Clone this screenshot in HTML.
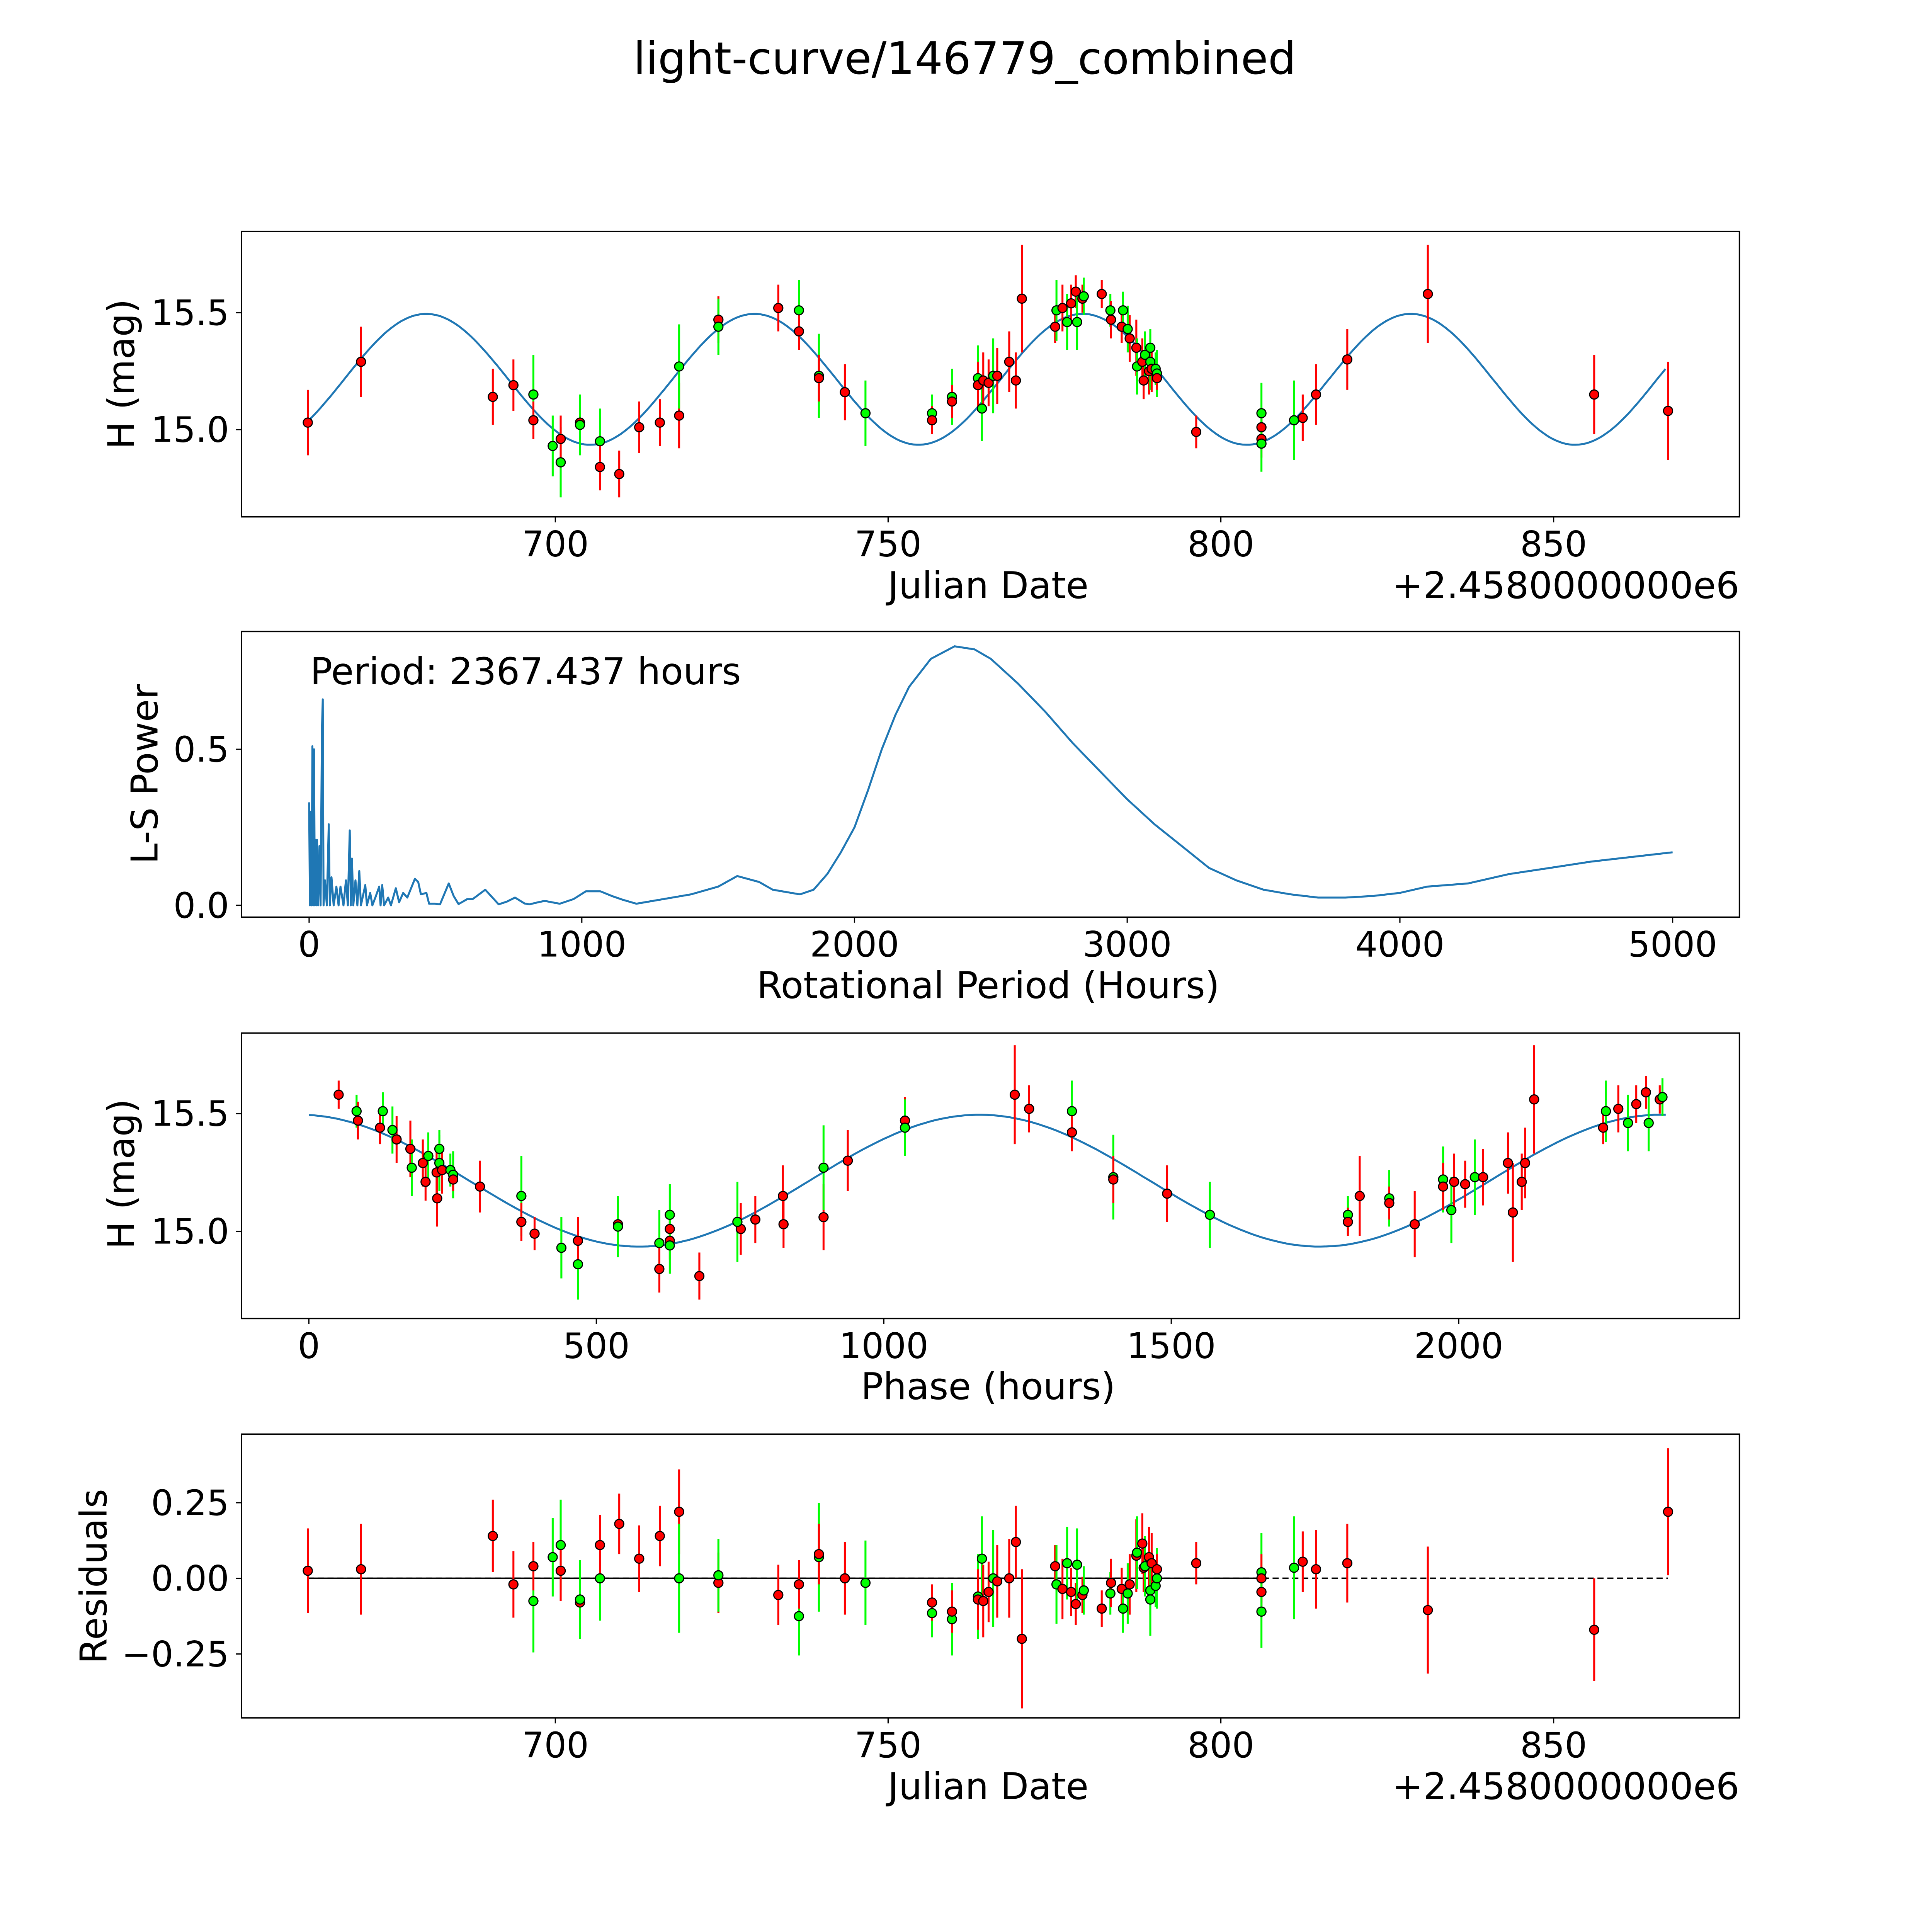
<!DOCTYPE html>
<html><head><meta charset="utf-8"><style>
html,body{margin:0;padding:0;background:#fff;overflow:hidden}
svg{display:block;width:100vw;height:100vh}
text{font-family:"DejaVu Sans","Liberation Sans",sans-serif;fill:#000}
</style></head><body>
<svg id="fig" xmlns="http://www.w3.org/2000/svg" viewBox="0 0 1570 1570" preserveAspectRatio="none">
<rect width="1570" height="1570" fill="#fff"/>
<text x="784" y="60" font-size="36" text-anchor="middle">light-curve/146779_combined</text>
<g id="layer"></g>
</svg>
<script>
// ---- data ----
const obsDate=[662.8,670.8,690.6,693.7,696.7,696.7,699.6,700.8,700.8,703.7,703.7,706.7,706.7,709.6,712.6,715.7,718.6,718.6,724.5,724.5,733.5,736.6,736.6,739.6,739.6,743.5,746.6,756.6,756.6,759.6,759.6,763.5,763.5,764.1,764.3,765.1,765.8,766.4,768.2,769.2,770.1,775.1,775.3,776.2,776.9,777.5,778.2,778.4,779.2,779.4,782.1,783.4,783.5,785.1,785.3,786.0,786.3,787.3,787.4,788.2,788.4,788.6,789.2,789.4,789.4,789.6,790.2,790.4,790.4,796.3,806.1,806.1,806.1,806.1,811.0,812.3,814.3,819.0,831.1,856.1,867.2];
const obsMag=[15.03,15.29,15.14,15.19,15.15,15.04,14.93,14.86,14.96,15.03,15.02,14.95,14.84,14.81,15.01,15.03,15.06,15.27,15.47,15.44,15.52,15.51,15.42,15.23,15.22,15.16,15.07,15.07,15.04,15.14,15.12,15.22,15.19,15.09,15.21,15.20,15.23,15.23,15.29,15.21,15.56,15.44,15.51,15.52,15.46,15.54,15.59,15.46,15.56,15.57,15.58,15.51,15.47,15.44,15.51,15.43,15.39,15.35,15.27,15.29,15.21,15.32,15.25,15.35,15.29,15.26,15.26,15.24,15.22,14.99,15.07,15.01,14.96,14.94,15.04,15.05,15.15,15.30,15.58,15.15,15.08];
const obsResid=[0.025,0.03,0.14,-0.02,-0.075,0.04,0.07,0.11,0.025,-0.08,-0.07,0.0,0.11,0.18,0.065,0.14,0.22,0.0,-0.015,0.01,-0.055,-0.125,-0.02,0.07,0.08,0.0,-0.015,-0.115,-0.08,-0.135,-0.11,-0.06,-0.07,0.065,-0.075,-0.045,0.0,-0.01,0.0,0.12,-0.2,0.04,-0.02,-0.035,0.05,-0.045,-0.085,0.045,-0.055,-0.04,-0.1,-0.05,-0.015,-0.035,-0.1,-0.05,-0.02,0.075,0.085,0.115,0.035,0.04,0.07,-0.04,-0.07,0.05,-0.025,0.0,0.03,0.05,0.02,0.0,-0.045,-0.11,0.035,0.055,0.03,0.05,-0.105,-0.17,0.22];
const obsErr=[0.14,0.15,0.12,0.11,0.17,0.08,0.13,0.15,0.10,0.11,0.13,0.14,0.10,0.10,0.11,0.10,0.14,0.18,0.10,0.12,0.10,0.13,0.08,0.18,0.10,0.12,0.14,0.08,0.06,0.12,0.07,0.14,0.10,0.14,0.12,0.10,0.16,0.12,0.13,0.12,0.23,0.07,0.13,0.10,0.12,0.08,0.07,0.12,0.06,0.08,0.06,0.07,0.08,0.07,0.08,0.10,0.10,0.12,0.12,0.10,0.08,0.10,0.10,0.08,0.12,0.10,0.07,0.10,0.05,0.07,0.13,0.08,0.08,0.12,0.17,0.10,0.13,0.13,0.21,0.17,0.21];
const obsBand=["r","r","r","r","g","r","g","g","r","r","g","g","r","r","r","r","r","g","r","g","r","g","r","g","r","r","g","g","r","g","r","g","r","g","r","r","g","r","r","r","r","r","g","r","g","r","r","g","r","g","r","g","r","r","g","g","r","r","g","r","r","g","r","g","g","r","g","g","r","r","g","r","r","g","g","r","r","r","r","r","r"];
const lsPeriod=[0,3,6,9,12,15,18,21,23,26,29,33,38,42,47,50,53,58,65,72,76,82,90,100,108,115,126,135,142,149,153,157,162,170,177,184,190,206,212,224,232,245,257,262,268,275,290,300,318,330,345,360,388,400,410,430,440,460,480,512,530,548,580,600,646,695,725,755,790,808,840,864,890,919,970,1015,1040,1068,1110,1149,1200,1300,1400,1500,1570,1650,1700,1800,1850,1900,1950,2000,2050,2100,2150,2200,2280,2367,2440,2500,2600,2700,2800,2900,3000,3100,3200,3300,3400,3500,3600,3700,3800,3900,4000,4100,4250,4400,4550,4700,4850,5000];
const lsPower=[0.33,0.0,0.30,0.0,0.51,0.0,0.50,0.0,0.21,0.0,0.21,0.0,0.19,0.0,0.56,0.66,0.0,0.08,0.0,0.26,0.0,0.09,0.0,0.06,0.0,0.06,0.0,0.08,0.0,0.24,0.0,0.15,0.0,0.08,0.0,0.11,0.0,0.065,0.0,0.04,0.0,0.03,0.06,0.0,0.065,0.0,0.025,0.0,0.055,0.01,0.04,0.025,0.085,0.075,0.035,0.04,0.005,0.005,0.003,0.07,0.03,0.004,0.02,0.02,0.05,0.003,0.012,0.025,0.006,0.003,0.01,0.014,0.01,0.005,0.02,0.045,0.045,0.045,0.03,0.018,0.005,0.02,0.035,0.06,0.094,0.075,0.05,0.035,0.05,0.10,0.17,0.25,0.37,0.5,0.61,0.70,0.79,0.83,0.82,0.79,0.71,0.62,0.52,0.43,0.34,0.26,0.19,0.12,0.08,0.05,0.035,0.025,0.025,0.03,0.04,0.06,0.07,0.10,0.12,0.14,0.155,0.17];
const periodHours=2367.437;
const epoch=681.3;
const fitMean=15.215, fitAmp=0.28, fitShift=17;
const dateTicks=[700,750,800,850];
const magTicks=[15.0,15.5];
const lsXTicks=[0,1000,2000,3000,4000,5000];
const lsYTicks=[0.0,0.5];
const phaseXTicks=[0,500,1000,1500,2000];
const residTicks=[0.25,0.0,-0.25];
const residTickLabels=["0.25","0.00","\u22120.25"];

// ---- helpers ----
const NS="http://www.w3.org/2000/svg";
const layer=document.getElementById('layer');
function mk(tag,attrs,parent){const e=document.createElementNS(NS,tag);for(const k in attrs)e.setAttribute(k,attrs[k]);(parent||layer).appendChild(e);return e;}
const L=196.2,R=1413.5;
const xDate=d=>451.3+(d-700)*5.408;
const model=h=>fitMean+fitAmp*Math.cos(4*Math.PI*(h+fitShift)/periodHours);
const phaseOf=d=>{let p=((d-epoch)*24)%periodHours;if(p<0)p+=periodHours;return p;};
const col={r:"#ff0000",g:"#00ff00"};
const TF=28.5, LF=30;

function frame(top,bottom,name){
  const r=mk('rect',{x:L,y:top,width:R-L,height:bottom-top,fill:'none',stroke:'#000','stroke-width':1.1});
  
  
}
function xtick(x,bottom,label,name){
  mk('line',{x1:x,x2:x,y1:bottom,y2:bottom+4.5,stroke:'#000','stroke-width':1});
  const t=mk('text',{x:x,y:bottom+32,'font-size':TF,'text-anchor':'middle'});t.textContent=label;
  
  
}
function ytick(y,label,name){
  mk('line',{x1:L-4.5,x2:L,y1:y,y2:y,stroke:'#000','stroke-width':1});
  const t=mk('text',{x:L-10,y:y+10,'font-size':TF,'text-anchor':'end'});t.textContent=label;
  
  
}
function label(x,y,txt,name,rot,anchor){
  const t=mk('text',{x:x,y:y,'font-size':LF,'text-anchor':anchor||'middle'});t.textContent=txt;
  if(rot)t.setAttribute('transform',`rotate(-90 ${x} ${y})`);
  
  
}
function points(xs,ys,errs,bands,fx,fy,unit,prefix){
  for(let i=0;i<xs.length;i++){
    const x=fx(xs[i]),y=fy(ys[i]),e=errs[i]*unit;
    const l=mk('line',{x1:x,x2:x,y1:y-e,y2:y+e,stroke:col[bands[i]],'stroke-width':1.6});
    
    
  }
  for(let i=0;i<xs.length;i++){
    const c=mk('circle',{cx:fx(xs[i]),cy:fy(ys[i]),r:3.7,fill:col[bands[i]],stroke:'#000','stroke-width':0.9});
    
    
  }
}

// ---- panel 1: light curve ----
{
  const yM=m=>349.1-(m-15)*190;
  let d='';for(let t=obsDate[0];t<=obsDate[obsDate.length-1]+0.01;t+=0.5){d+=(d?'L':'M')+xDate(t).toFixed(1)+','+yM(model(phaseOf(t))).toFixed(1);}
  const p=mk('path',{d:d,fill:'none',stroke:'#1f77b4','stroke-width':1.6});
  
  
  points(obsDate,obsMag,obsErr,obsBand,xDate,yM,190,'lightcurve');
  frame(188,420,'lightcurve-axes');
  dateTicks.forEach(v=>xtick(xDate(v),420,String(v),'x-tick-label'));
  magTicks.forEach(v=>ytick(yM(v),v.toFixed(1),'y-tick-label'));
  label(803,486,'Julian Date','x-axis-title');
  label(R,486,'+2.4580000000e6','x-axis-offset','', 'end');
  label(109,304,'H (mag)','y-axis-title',true);
}
// ---- panel 2: periodogram ----
{
  const xP=p=>251.2+p*0.2216, yP=v=>735.7-v*253.6;
  let d='';lsPeriod.forEach((p,i)=>{d+=(i?'L':'M')+xP(p).toFixed(2)+','+yP(lsPower[i]).toFixed(1);});
  const p=mk('path',{d:d,fill:'none',stroke:'#1f77b4','stroke-width':1.6,'stroke-linejoin':'round'});
  
  
  frame(513.2,745.3,'periodogram-axes');
  lsXTicks.forEach(v=>xtick(xP(v),745.3,String(v),'x-tick-label'));
  lsYTicks.forEach(v=>ytick(yP(v),v.toFixed(1),'y-tick-label'));
  label(252,556,'Period: '+periodHours.toFixed(3)+' hours','period-annotation','', 'start');
  label(803,811,'Rotational Period (Hours)','x-axis-title');
  label(128,629,'L-S Power','y-axis-title',true);
}
// ---- panel 3: phased ----
{
  const xH=h=>251.0+h*0.4672, yM=m=>1000.6-(m-15)*191.4;
  let d='';for(let h=0;h<=periodHours;h+=10){d+=(d?'L':'M')+xH(h).toFixed(1)+','+yM(model(h)).toFixed(1);}
  const p=mk('path',{d:d,fill:'none',stroke:'#1f77b4','stroke-width':1.6});
  
  
  points(obsDate.map(phaseOf),obsMag,obsErr,obsBand,xH,yM,191.4,'phase');
  frame(839.5,1071.5,'phase-axes');
  phaseXTicks.forEach(v=>xtick(xH(v),1071.5,String(v),'x-tick-label'));
  magTicks.forEach(v=>ytick(yM(v),v.toFixed(1),'y-tick-label'));
  label(803,1137,'Phase (hours)','x-axis-title');
  label(109,954,'H (mag)','y-axis-title',true);
}
// ---- panel 4: residuals ----
{
  const yR=v=>1282.6-v*245.8;
  const s=mk('line',{x1:xDate(obsDate[0]),x2:xDate(806.1),y1:yR(0),y2:yR(0),stroke:'#000','stroke-width':1.3});
  
  
  const dl=mk('line',{x1:xDate(obsDate[0]),x2:xDate(obsDate[obsDate.length-1]),y1:yR(0),y2:yR(0),stroke:'#000','stroke-width':1.3,'stroke-dasharray':'5,3'});
  
  
  points(obsDate,obsResid,obsErr,obsBand,xDate,yR,245.8,'residual');
  frame(1165.4,1396,'residual-axes');
  dateTicks.forEach(v=>xtick(xDate(v),1396,String(v),'x-tick-label'));
  residTicks.forEach((v,i)=>ytick(yR(v),residTickLabels[i],'y-tick-label'));
  label(803,1462,'Julian Date','x-axis-title');
  label(R,1462,'+2.4580000000e6','x-axis-offset','', 'end');
  label(86.5,1281,'Residuals','y-axis-title',true);
}
</script>
</body></html>
